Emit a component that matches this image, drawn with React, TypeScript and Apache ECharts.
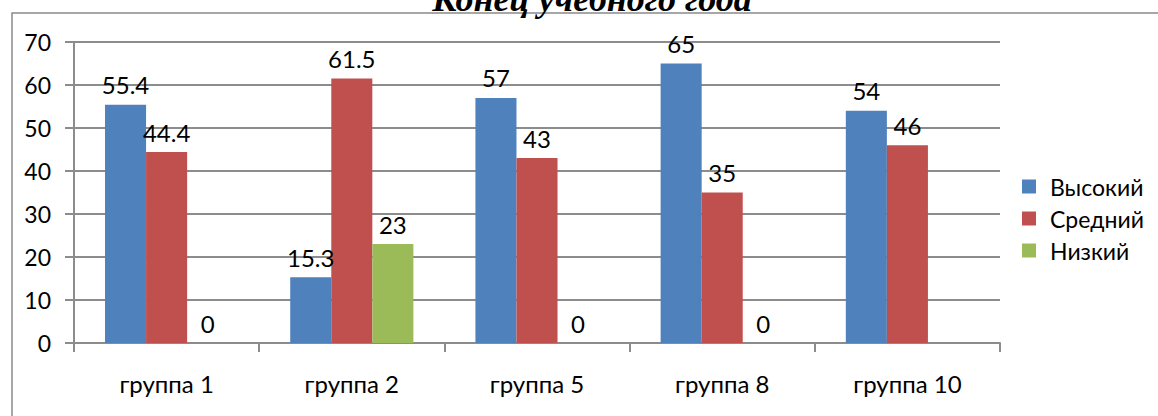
import React, { useEffect, useRef } from "react";
import * as echarts from "echarts";

const categories = ["группа 1", "группа 2", "группа 5", "группа 8", "группа 10"];
const highValues = [55.4, 15.3, 57, 65, 54];
const midValues = [44.4, 61.5, 43, 35, 46];
const lowValues: (number | null)[] = [0, 23, 0, 0, null];
const seriesNames = ["Высокий", "Средний", "Низкий"];
const colors = ["#4F81BD", "#C0504D", "#9BBB59"];
const titleText = "Конец учебного года";
const yTicks = { min: 0, max: 70, interval: 10 };

const FONT = "Lato, 'Open Sans', sans-serif";

export default function App() {
  const ref = useRef<HTMLDivElement>(null);
  useEffect(() => {
    if (!ref.current) return;
    const chart = echarts.init(ref.current, null, { renderer: "svg" });
    const data = [highValues, midValues, lowValues];
    chart.setOption({
      animation: false,
      backgroundColor: "#fff",
      textStyle: { fontFamily: FONT, color: "#000" },
      graphic: [
        {
          type: "rect",
          shape: { x: 12, y: 13, width: 1200, height: 500 },
          style: { fill: "none", stroke: "#8a8a8a", lineWidth: 1.5 },
          silent: true,
        },
        {
          type: "text",
          x: 592,
          y: 17,
          style: {
            text: titleText,
            font: "bold italic 36px 'Liberation Serif', serif",
            fill: "#000",
            textAlign: "center",
            textVerticalAlign: "bottom",
          },
          silent: true,
        },
      ],
      grid: { left: 74, right: 158, top: 42, bottom: 73, containLabel: false },
      legend: {
        orient: "vertical",
        left: 1017,
        top: 170,
        itemWidth: 14,
        itemHeight: 14,
        itemGap: 9,
        icon: "rect",
        data: seriesNames,
        textStyle: {
          fontFamily: FONT,
          fontSize: 23,
          color: "#000",
          lineHeight: 23,
          padding: [0, 0, 0, 9],
        },
      },
      xAxis: {
        type: "category",
        data: categories,
        axisLine: { lineStyle: { color: "#8c8c8c", width: 2 } },
        axisTick: { show: true, length: 9, lineStyle: { color: "#8c8c8c", width: 2 } },
        axisLabel: { fontFamily: FONT, fontSize: 24, color: "#000", margin: 28 },
      },
      yAxis: {
        type: "value",
        min: yTicks.min,
        max: yTicks.max,
        interval: yTicks.interval,
        axisLine: { show: true, lineStyle: { color: "#8c8c8c", width: 2 } },
        axisTick: { show: true, length: 9, lineStyle: { color: "#8c8c8c", width: 2 } },
        splitLine: { lineStyle: { color: "#8c8c8c", width: 2 } },
        axisLabel: { fontFamily: FONT, fontSize: 23, color: "#000", margin: 23 },
      },
      series: seriesNames.map((name, i) => ({
        name,
        type: "bar",
        data: data[i],
        barGap: "0%",
        barCategoryGap: "33.5%",
        itemStyle: { color: colors[i] },
        label: {
          show: true,
          position: "top",
          distance: 8,
          fontFamily: FONT,
          fontSize: 24,
          color: "#000",
        },
      })),
    });
    return () => chart.dispose();
  }, []);
  return (
    <div
      ref={ref}
      style={{ position: "fixed", left: 0, top: 0, width: 1158, height: 416 }}
    />
  );
}
